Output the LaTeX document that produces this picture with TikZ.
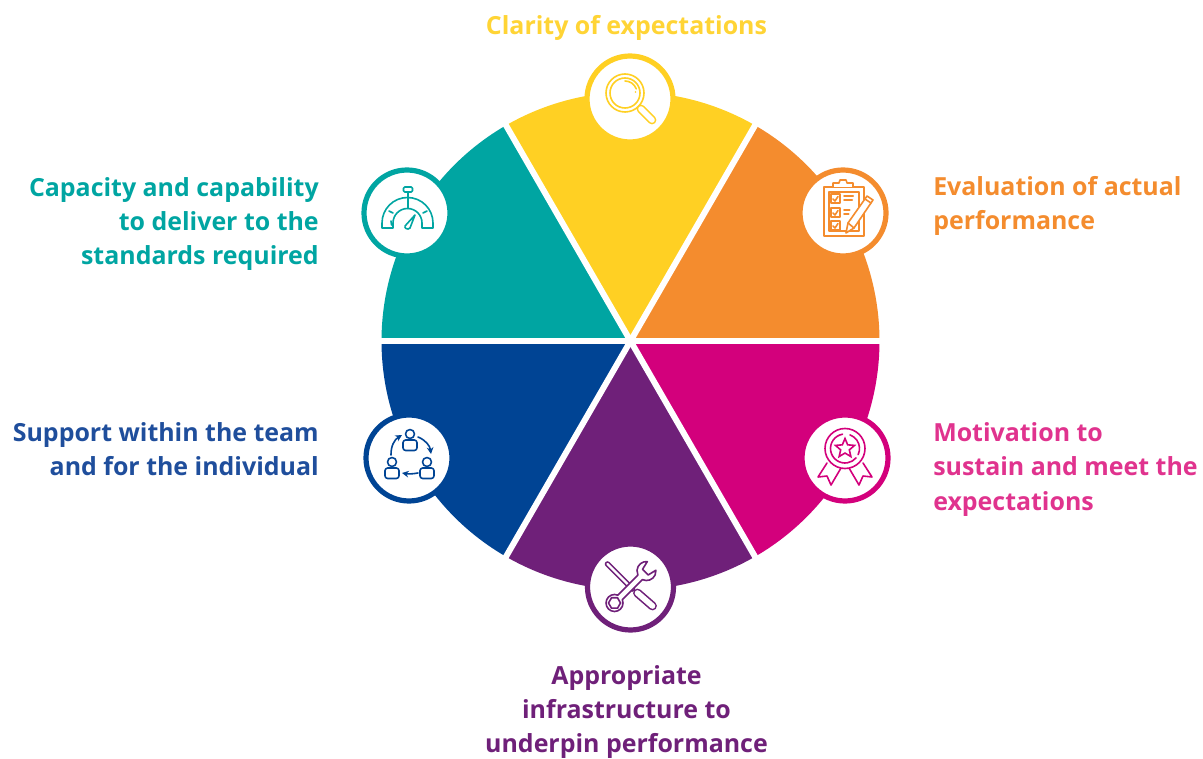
\documentclass[tikz,border=0pt]{standalone}
\usepackage{fontspec}
\setmainfont{Open Sans}
\usepackage{tikz}
\usetikzlibrary{positioning,shapes.geometric,arrows.meta}
\definecolor{clarityc}{HTML}{FFD023}
\definecolor{evalc}{HTML}{F48C2E}
\definecolor{motivc}{HTML}{D3007C}
\definecolor{infrac}{HTML}{6F2079}
\definecolor{supportc}{HTML}{004494}
\definecolor{capacc}{HTML}{00A5A2}
\definecolor{motivt}{HTML}{E0338E}
\definecolor{supportt}{HTML}{1F4E9C}
\tikzset{
    badge/.style={circle, draw=#1, line width=3.9pt, fill=white, minimum size=64.5pt, inner sep=0pt},
    caption/.style={text=#1, font=\fontsize{18.7}{25.7}\selectfont\bfseries},
    icon/.style={draw=#1, line width=1.2pt, line cap=round, line join=round},
    bar/.style={draw=#1, line width=1.2pt, double=white, double distance=4.2pt, line cap=round}
}
\begin{document}
\begin{tikzpicture}[x=0.75pt, y=0.75pt]
    \useasboundingbox (0,0) rectangle (1203,758);
    \coordinate (hub) at (630.5,417);

    % wedges
    \foreach \from/\col in {0/evalc, 60/clarityc, 120/capacc, 180/supportc, 240/infrac, 300/motivc} {
        \fill[\col] (hub) -- ++(\from:249) arc[start angle=\from, delta angle=60, radius=249] -- cycle;
    }
    \foreach \ang in {0,60,...,300} {
        \draw[white, line width=4.5pt] (hub) -- ++(\ang:256);
    }

    % badges
    \node (clarity) [badge=clarityc] at (630,659) {};
    \node (evaluation) [badge=evalc] at (843,545) {};
    \node (motivation) [badge=motivc] at (845,300) {};
    \node (infra) [badge=infrac] at (630.5,171) {};
    \node (support) [badge=supportc] at (409,300) {};
    \node (capacity) [badge=capacc] at (407,545) {};

    % captions
    \node (clarityText) [caption=clarityc!92!white, anchor=center] at (626.5,730) {Clarity of expectations};
    \node (evalText) [caption=evalc, anchor=west, align=left, inner sep=0pt] at (933,552) {Evaluation of actual\\performance};
    \node (motivText) [caption=motivt, anchor=west, align=left, inner sep=0pt] at (933,288.5) {Motivation to\\sustain and meet the\\expectations};
    \node (infraText) [caption=infrac, anchor=center, align=center, inner sep=0pt] at (626.5,46) {Appropriate\\infrastructure to\\underpin performance};
    \node (supportText) [caption=supportt, anchor=east, align=right, inner sep=0pt] at (319,309) {Support within the team\\and for the individual};
    \node (capacText) [caption=capacc, anchor=east, align=right, inner sep=0pt] at (319,534) {Capacity and capability\\to deliver to the\\standards required};

    % magnifier
    \begin{scope}[shift={(clarity.center)}]
        \draw[icon=clarityc] (-5,6) circle (19) (-5,6) circle (15);
        \draw[icon=clarityc] (-5,18) arc[start angle=90, delta angle=-70, radius=12];
        \fill[clarityc] (5.5,7) circle (0.9);
        \draw[bar=clarityc] (11,-10) -- (22,-21);
    \end{scope}

    % clipboard
    \begin{scope}[shift={(evaluation.center)}]
        \draw[icon=evalc] (-19,-23) rectangle (21,26);
        \draw[icon=evalc] (-14,-18) rectangle (16,21);
        \draw[icon=evalc, fill=white] (-10,26) -- (-10,30) -- (-4,30) -- (-3,33) -- (3,33) -- (4,30) -- (10,30) -- (10,26);
        \foreach \yb in {19,5,-8} {
            \draw[icon=evalc, fill=white] (-12,\yb) rectangle ++(9,-9);
            \draw[icon=evalc] (-10,\yb-5) -- (-8,\yb-7) -- (-5,\yb-2.5);
        }
        \foreach \yb in {17,13,3,-1} {
            \draw[icon=evalc] (1,\yb) -- (\yb/4+6,\yb);
        }
        \draw[icon=evalc, fill=white] (3,-20) -- (5,-10) -- (24,17) -- (30,13) -- (11,-15) -- cycle;
        \draw[icon=evalc] (5,-10) -- (11,-15) (22,14) -- (28,10);
    \end{scope}

    % medal
    \begin{scope}[shift={(motivation.center)}]
        \draw[icon=motivc, fill=white] (-18,-5) -- (-27,-19) -- (-18,-18) -- (-14,-27) -- (-4,-10);
        \draw[icon=motivc, fill=white] (18,-5) -- (27,-19) -- (18,-18) -- (14,-27) -- (4,-10);
        \draw[icon=motivc, fill=white] (0,9.5) circle (20);
        \draw[icon=motivc] (0,9.5) ++(100:14.5) arc[start angle=100, delta angle=220, radius=14.5];
        \draw[icon=motivc] (0,9.5) ++(-25:14.5) arc[start angle=-25, delta angle=95, radius=14.5];
        \node (medalStar) [star, star points=5, star point ratio=2.2, draw=motivc, line width=1.2pt, minimum size=15pt, inner sep=0pt] at (0,9.5) {};
    \end{scope}

    % tools
    \begin{scope}[shift={(infra.center)}]
        \draw[icon=infrac, double=white, double distance=1.8pt] (-23,23) -- (2,-2);
        \draw[bar=infrac] (7,-6) -- (22,-19);
    \end{scope}
    \begin{scope}[shift={(infra.center)}, rotate=45]
        \draw[icon=infrac, fill=white] (-14.72,3.18) arc[start angle=22, delta angle=316, radius=8.5]
            -- (13.67,-3.25) arc[start angle=200, delta angle=120, radius=9.5]
            -- (21,-4) -- (21,4) -- (29.88,6.1) arc[start angle=40, delta angle=120, radius=9.5] -- cycle;
        \node (wrenchNut) [regular polygon, regular polygon sides=6, draw=infrac, line width=1.2pt, minimum size=9pt, inner sep=0pt] at (-22.6,0) {};
    \end{scope}

    % people
    \begin{scope}[shift={(support.center)}]
        \foreach \xp/\yp in {1/24, -17/-4, 18/-4} {
            \draw[icon=supportc] (\xp,\yp) circle (4.5);
            \draw[icon=supportc, rounded corners=2pt] (\xp-7,\yp-6) rectangle (\xp+7,\yp-16.5);
        }
        \draw[icon=supportc, -{Stealth[length=5pt,width=5pt]}] (-18,3) to[bend left=30] (-7,23);
        \draw[icon=supportc, -{Stealth[length=5pt,width=5pt]}] (9,21) to[bend left=30] (22,4);
        \draw[icon=supportc, -{Stealth[length=5pt,width=5pt]}] (9,-15) to[bend left=10] (-7,-15);
    \end{scope}

    % gauge
    \begin{scope}[shift={(capacity.center)}]
        \draw[icon=capacc] (-25,-15) -- (-14,-15) -- (-14,-10)
            arc[start angle=180, delta angle=-180, radius=14.5] -- (15,-15) -- (26,-15) -- (26,-10)
            arc[start angle=0, delta angle=180, radius=25.5] -- cycle;
        \draw[icon=capacc] (1,4.5) -- (1,21);
        \draw[icon=capacc, fill=white, rounded corners=1pt] (-3.5,21) rectangle (5.5,26);
        \draw[icon=capacc] (-18,2) -- (-14,0) (20,2) -- (16,0);
        \draw[icon=capacc] (-16,-8) -- (-15.5,-12);
        \draw[icon=capacc] (-2,-13) -- (8,-2) -- (3,-15) arc[start angle=-40, delta angle=-120, radius=3];
    \end{scope}
\end{tikzpicture}
\end{document}
